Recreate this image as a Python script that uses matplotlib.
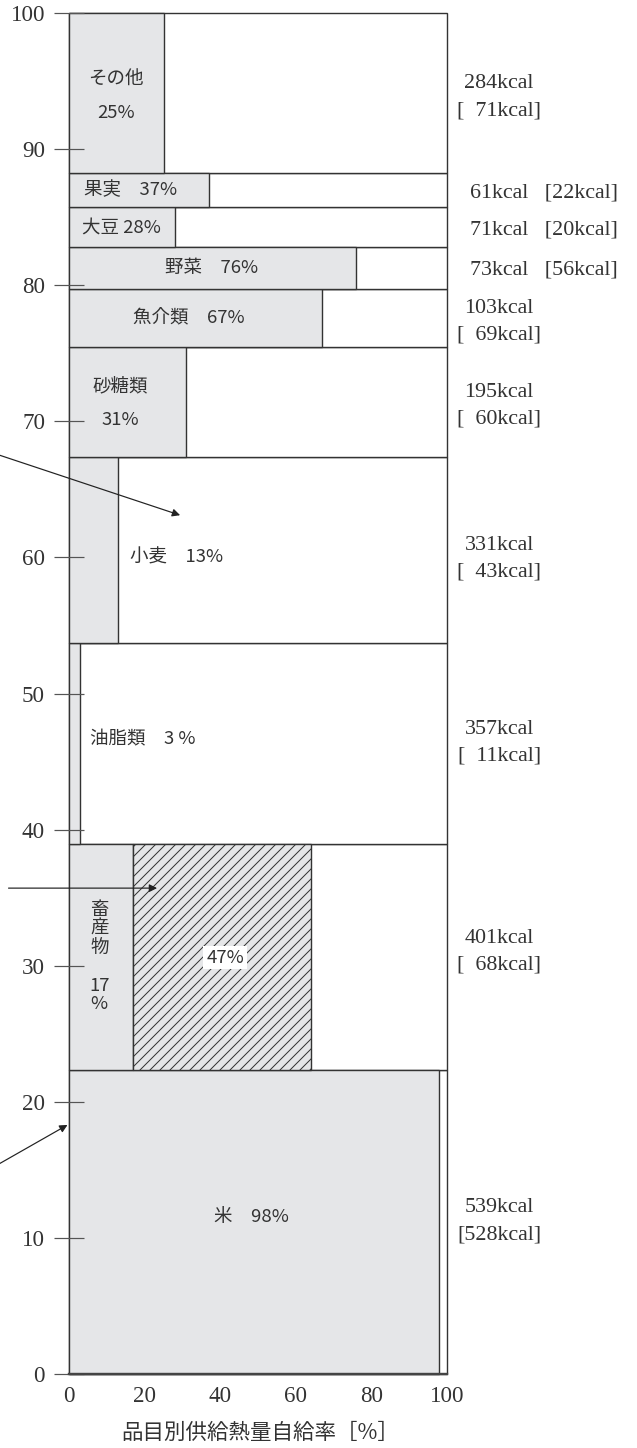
import matplotlib
matplotlib.use("Agg")
import matplotlib.pyplot as plt

# ---------------- data ----------------
items = ['米', '畜産物', '油脂類', '小麦', '砂糖類', '魚介類', '野菜', '大豆', '果実', 'その他']
supply_kcal = [539, 401, 357, 331, 195, 103, 73, 71, 61, 284]
domestic_kcal = [528, 68, 11, 43, 60, 69, 56, 20, 22, 71]
self_rate = [98, 17, 3, 13, 31, 67, 76, 28, 37, 25]
feed_import_rate = [0, 47, 0, 0, 0, 0, 0, 0, 0, 0]   # hatched part (livestock)
y_ticks = [0, 10, 20, 30, 40, 50, 60, 70, 80, 90, 100]
x_ticks = [0, 20, 40, 60, 80, 100]
x_label = '品目別供給熱量自給率［%］'

# ---------------- layout ----------------
W, H, DPI = 637, 1448, 120
def pt(px):
    return px * 72.0 / DPI

SERIF = ['Liberation Serif', 'DejaVu Serif']
SANS = ['Noto Sans CJK JP', 'DejaVu Sans']
GRAY = '#e5e6e8'
EDGE = '#333333'
TXT = '#333333'

plt.rcParams['hatch.linewidth'] = pt(1.0)

fig = plt.figure(figsize=(W / DPI, H / DPI), dpi=DPI)
ax = fig.add_axes([69 / W, 1 - 1374 / H, (447 - 69) / W, (1374 - 13) / H])
ax.set_xlim(0, 100)
ax.set_ylim(0, 100)
ax.set_axisbelow(False)

total = sum(supply_kcal)
shares = [v / total * 100 for v in supply_kcal]
bottoms = []
acc = 0.0
for s in shares:
    bottoms.append(acc)
    acc += s
centers = [b + s / 2 for b, s in zip(bottoms, shares)]

lw = pt(1.4)
# outer boxes (0-100)
ax.barh(bottoms, [100] * len(items), height=shares, left=0, align='edge',
        color='white', edgecolor=EDGE, linewidth=lw, clip_on=False, zorder=1)
# self-sufficiency (gray)
ax.barh(bottoms, self_rate, height=shares, left=0, align='edge',
        color=GRAY, edgecolor=EDGE, linewidth=lw, clip_on=False, zorder=2)
# hatched part
hb = [b for b, f in zip(bottoms, feed_import_rate) if f > 0]
hs = [s for s, f in zip(shares, feed_import_rate) if f > 0]
hl = [r for r, f in zip(self_rate, feed_import_rate) if f > 0]
hw = [f for f in feed_import_rate if f > 0]
ax.barh(hb, hw, height=hs, left=hl, align='edge', color=GRAY,
        edgecolor=EDGE, hatch='////', linewidth=lw, clip_on=False, zorder=2)

# spines / ticks
for sp in ['top', 'right', 'left']:
    ax.spines[sp].set_visible(False)
ax.spines['bottom'].set_linewidth(pt(2.4))
ax.spines['bottom'].set_color('#444444')
ax.spines['bottom'].set_zorder(5)

ax.set_yticks(y_ticks)
ax.set_yticklabels([str(v) for v in y_ticks])
ax.set_xticks(x_ticks)
ax.set_xticklabels([str(v) for v in x_ticks])
ax.tick_params(axis='y', direction='inout', length=pt(30), width=pt(1.2),
               color='#555555', pad=pt(9), labelsize=pt(23), labelcolor=TXT)
ax.tick_params(axis='x', length=0, pad=pt(12), labelsize=pt(23), labelcolor=TXT)
for lab in ax.get_xticklabels() + ax.get_yticklabels():
    lab.set_family(SERIF)

fig.text(260 / W, 1 - 1433 / H, x_label, ha='center', va='center',
         fontsize=pt(21.5), color=TXT, family=SANS)

# ---------------- inner labels ----------------
fs_in = pt(18.5)
def lab(x, y, s, ha='center', **kw):
    ax.text(x, y, s, ha=ha, va='center', fontsize=fs_in, color=TXT,
            family=SANS, zorder=7, **kw)

lab(12.5, 95.1, 'その他')
lab(12.5, 92.65, f'{self_rate[9]}%')
lab(16.3, centers[8], f'果実　{self_rate[8]}%')
lab(14.0, centers[7], f'大豆 {self_rate[7]}%')
lab(37.6, centers[6], f'野菜　{self_rate[6]}%')
lab(31.7, centers[5], f'魚介類　{self_rate[5]}%')
lab(13.5, 72.5, '砂糖類')
lab(13.5, 70.1, f'{self_rate[4]}%')
lab(16.1, 60.0, f'小麦　{self_rate[3]}%', ha='left')
lab(5.6, 46.6, f'油脂類　{self_rate[2]} %', ha='left')
for i, ch in enumerate(items[1]):
    lab(8.0, 34.1 - i * 1.4, ch)
lab(8.0, 28.5, f'{self_rate[1]}')
lab(8.0, 27.2, '%')
ax.text(41.3, 30.6, f'{feed_import_rate[1]}%', ha='center', va='center',
        fontsize=fs_in, color=TXT, family=SANS, zorder=7,
        bbox=dict(facecolor='white', edgecolor='none', pad=pt(3)))
lab(48.3, 11.5, f'米　{self_rate[0]}%')

# ---------------- right labels ----------------
fs_r = pt(22)
y_adj = [0.35, 0.7, 0.35, -0.35, 0, 0, 0, 0, 0, 0]
two_line = [True, True, True, True, True, True, False, False, False, True]
for i in range(len(items)):
    yc = centers[i] + y_adj[i]
    dom = domestic_kcal[i]
    dom_s = f'{dom}' if dom >= 100 else f'  {dom}'
    if two_line[i]:
        ax.text(113.8, yc + 0.37, f'{supply_kcal[i]}kcal', ha='center', va='baseline',
                fontsize=fs_r, color=TXT, family=SERIF, clip_on=False)
        ax.text(113.8, yc - 1.62, f'[{dom_s}kcal]', ha='center', va='baseline',
                fontsize=fs_r, color=TXT, family=SERIF, clip_on=False)
    else:
        ax.text(106.1, yc - 0.5, f'{supply_kcal[i]}kcal   [{dom}kcal]', ha='left',
                va='baseline', fontsize=fs_r, color=TXT, family=SERIF, clip_on=False)

# ---------------- arrows (from labels outside the frame) ----------------
ap = dict(arrowstyle='-|>', lw=pt(1.2), color='#222222', mutation_scale=pt(16),
          shrinkA=0, shrinkB=0)
ax.annotate('', xy=(29.4, 63.1), xytext=(-20, 67.66), arrowprops=ap,
            annotation_clip=False)
ax.annotate('', xy=(23.3, 35.7), xytext=(-16.0, 35.7), arrowprops=ap,
            annotation_clip=False)
ax.annotate('', xy=(-0.4, 18.3), xytext=(-20, 15.2), arrowprops=ap,
            annotation_clip=False)

fig.savefig('out.png', dpi=DPI)
